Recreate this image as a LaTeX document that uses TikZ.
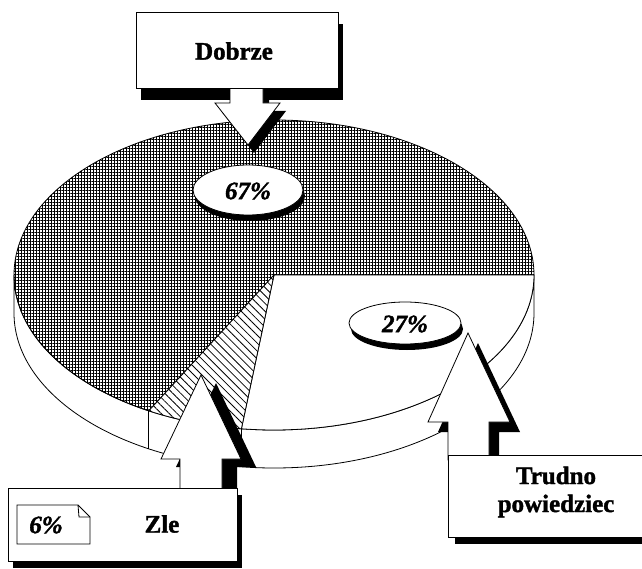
\documentclass[tikz,border=0pt]{standalone}
\usepackage{fontspec}
\setmainfont{Liberation Serif}[BoldFeatures={FakeBold=1.5},BoldItalicFeatures={FakeBold=1.5}]
\usetikzlibrary{patterns.meta,shapes.geometric}
\begin{document}
\begin{tikzpicture}[x=1pt,y=-1pt,line width=0.8pt,line join=miter,
  lbl/.style={font=\bfseries\fontsize{25}{28}\selectfont,inner sep=0pt},
  pct/.style={font=\bfseries\itshape\fontsize{25}{28}\selectfont,inner sep=0pt},
  shade/.style={fill=black,draw=none},
  paper/.style={fill=white,draw=black,line width=0.8pt},
  gridfill/.style={pattern={Hatch[distance=3pt,line width=1pt]},draw=black},
  hatchfill/.style={pattern={Lines[angle=-45,distance=5.6pt,line width=0.8pt]},draw=black},
  pie/.style={x radius=260,y radius=155}]
\useasboundingbox (0,0) rectangle (642,569);
\clip (0,0) rectangle (642,569);

% ---- pie side wall ----
\path[paper] (14,275) arc[start angle=180,end angle=0,pie] -- (534,313)
  arc[start angle=0,end angle=180,pie] -- cycle;
\coordinate (c) at (274,275);
\coordinate (r0) at (534,275);
\coordinate (z0) at (241.4,428.8);
\coordinate (z1) at (148.7,410.8);
\coordinate (z1b) at (148.7,448.8);
\coordinate (z0b) at (241.4,466.8);
\draw (z1) -- (z1b);
\draw (z0) -- (z0b);

% ---- pie top ----
\path[gridfill] (c) -- (r0) arc[start angle=0,end angle=-241.2,pie] -- cycle;
\path[paper] (c) -- (r0) arc[start angle=0,end angle=97.2,pie] -- cycle;
\path[fill=white] (c) -- (z0) arc[start angle=97.2,end angle=118.8,pie] -- cycle;
\path[hatchfill] (c) -- (z0) arc[start angle=97.2,end angle=118.8,pie] -- cycle;

% ---- percentage ellipses ----
\fill (250,196) ellipse[x radius=55,y radius=25];
\path[paper] (248,190) ellipse[x radius=55,y radius=25];
\node[pct] (p67) at (248,191) {67\%};
\fill (407,329) ellipse[x radius=56,y radius=21];
\path[paper] (405,323) ellipse[x radius=56,y radius=21];
\node[pct] (p27) at (405,324) {27\%};

% ---- Dobrze callout ----
\fill[shade] (236,96) -- (269,96) -- (269,111) -- (286,111) -- (254,153) -- (221,111) -- (236,111) -- cycle;
\fill[shade] (141,24) rectangle (343,100);
\path[paper] (230,80) -- (263,80) -- (263,103) -- (280,103) -- (248,145) -- (215,103) -- (230,103) -- cycle;
\path[paper] (136,12) rectangle (338,88);
\node[lbl] (dobrze) at (234,51) {Dobrze};

% ---- Trudno powiedziec callout ----
\fill[shade] (458,465) -- (458,432) -- (438,432) -- (478,343) -- (520,432) -- (499,432) -- (499,465) -- cycle;
\fill[shade] (455,462) rectangle (667,544);
\path[paper] (448,460) -- (448,422) -- (428,422) -- (468,333) -- (510,422) -- (489,422) -- (489,460) -- cycle;
\path[paper] (448,455) rectangle (667,537);
\node[lbl,align=center] (trudno) at (556,492) {Trudno\\powiedziec};

% ---- Zle callout ----
\fill[shade] (195,496) -- (195,467) -- (176,467) -- (216,383) -- (256,467) -- (237,467) -- (237,496) -- cycle;
\fill[shade] (13,495) rectangle (242,568);
\path[paper] (180,492) -- (180,459) -- (161,459) -- (201,375) -- (241,459) -- (222,459) -- (222,492) -- cycle;
\path[paper] (8,488) rectangle (237,561);
\path[paper] (17,505) -- (78,505) -- (90,517) -- (90,544) -- (17,544) -- cycle;
\draw (78,505) -- (79,517) -- (90,517);
\node[pct] (p6) at (46,525) {6\%};
\node[lbl] (zle) at (162,524) {Zle};
\end{tikzpicture}
\end{document}
